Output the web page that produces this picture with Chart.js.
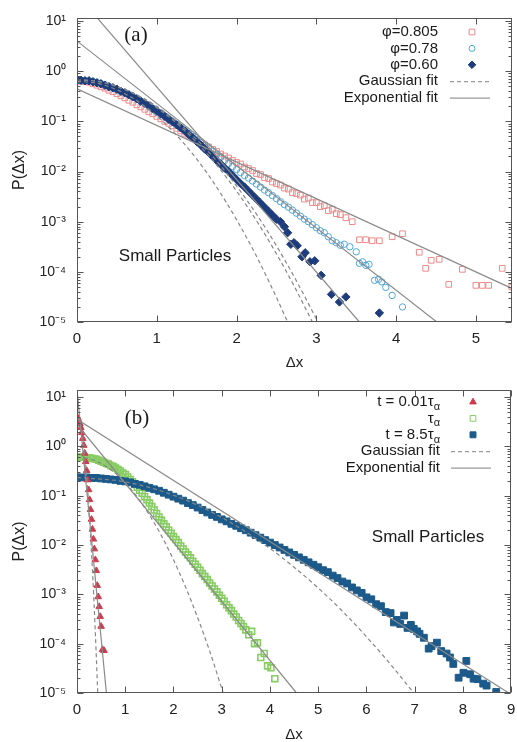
<!DOCTYPE html>
<html lang="en">
<head>
<meta charset="utf-8">
<script src="https://cdn.jsdelivr.net/npm/chart.js@4.4.1/dist/chart.umd.min.js"></script>
<style>
  body { margin: 0; background: #fff; }
  .panel { position: absolute; left: 0; }
</style>
</head>
<body>
<div class="panel" style="top:0"><canvas id="chartA" width="517" height="370"></canvas></div>
<div class="panel" style="top:370px"><canvas id="chartB" width="517" height="372"></canvas></div>
<script>
// values are log10 P(dx); dense parts are histogram bins
const yTickValues = [1e-5, 1e-4, 1e-3, 1e-2, 1e-1, 1, 10];
const yTickLabels = ['10⁻⁵', '10⁻⁴', '10⁻³', '10⁻²', '10⁻¹', '10⁰', '10¹'];
const xTicksA = [0, 1, 2, 3, 4, 5];
const xTicksB = [0, 1, 2, 3, 4, 5, 6, 7, 8, 9];

// ---- panel (a), bin width 0.05
const binA = 0.05;
const logA805 = [-0.20,-0.20,-0.21,-0.22,-0.25,-0.28,-0.31,-0.34,-0.38,-0.41,
  -0.45,-0.49,-0.53,-0.58,-0.62,-0.67,-0.71,-0.76,-0.81,-0.85,
  -0.90,-0.95,-1.00,-1.04,-1.09,-1.14,-1.19,-1.24,-1.28,-1.33,
  -1.38,-1.42,-1.47,-1.51,-1.56,-1.60,-1.65,-1.69,-1.73,-1.78,
  -1.82,-1.85,-1.91,-1.94,-1.98,-2.04,-2.06,-2.12,-2.14,-2.21,
  -2.24,-2.27,-2.33,-2.35,-2.42,-2.44,-2.47,-2.55,-2.53,-2.62,
  -2.62,-2.70,-2.68,-2.78,-2.75,-2.84,-2.86];
const tailXA805 = [3.37,3.45,3.54,3.62,3.70,3.79,3.95,4.08,4.29,4.37,4.44,4.54,4.66,4.83,5.00,5.08,5.16,5.33,5.45];
const tailLogA805 = [-2.92,-3.00,-3.36,-3.36,-3.38,-3.38,-3.30,-3.24,-3.61,-3.93,-3.77,-3.75,-4.25,-3.95,-4.27,-4.27,-4.27,-3.93,-4.30];

const logA078 = [-0.19,-0.19,-0.19,-0.20,-0.21,-0.23,-0.25,-0.27,-0.30,-0.33,
  -0.36,-0.40,-0.43,-0.47,-0.51,-0.55,-0.60,-0.64,-0.69,-0.74,
  -0.79,-0.84,-0.90,-0.95,-1.01,-1.06,-1.12,-1.18,-1.24,-1.30,
  -1.36,-1.42,-1.48,-1.54,-1.60,-1.66,-1.72,-1.78,-1.84,-1.90,
  -1.96,-2.02,-2.08,-2.13,-2.19,-2.25,-2.31,-2.37,-2.42,-2.48,
  -2.54,-2.60,-2.66,-2.71,-2.77,-2.83,-2.89,-2.95,-3.00,-3.06,
  -3.12,-3.18,-3.22,-3.30,-3.38,-3.42,-3.47];
const tailXA078 = [3.35,3.42,3.50,3.54,3.58,3.62,3.66,3.73,3.78,3.82,3.87,3.95,4.08];
const tailLogA078 = [-3.45,-3.50,-3.60,-3.83,-3.80,-3.87,-3.85,-4.17,-4.15,-4.20,-4.31,-4.47,-4.70];

const logA060 = [-0.18,-0.18,-0.19,-0.19,-0.21,-0.23,-0.25,-0.28,-0.31,-0.33,
  -0.36,-0.40,-0.43,-0.47,-0.51,-0.55,-0.60,-0.64,-0.69,-0.75,
  -0.80,-0.85,-0.90,-0.96,-1.01,-1.07,-1.13,-1.19,-1.26,-1.33,
  -1.40,-1.47,-1.55,-1.62,-1.70,-1.78,-1.85,-1.93,-2.00,-2.08,
  -2.16,-2.24,-2.31,-2.39,-2.47,-2.55,-2.63,-2.71,-2.79,-2.87,
  -2.95];
const tailXA060 = [2.55,2.60,2.64,2.68,2.72,2.76,2.82,2.86,2.92,2.98,3.06,3.19,3.29,3.37,3.79];
const tailLogA060 = [-3.00,-3.10,-3.22,-3.45,-3.42,-3.48,-3.70,-3.62,-3.80,-3.78,-4.07,-4.45,-4.60,-4.50,-4.82];

const gaussXA805 = [0,0.25,0.5,0.75,1,1.25,1.5,1.75,2,2.25,2.5,2.64];
const gaussLogA805 = [-0.20,-0.24,-0.37,-0.59,-0.89,-1.28,-1.75,-2.31,-2.96,-3.69,-4.51,-5.0];
const gaussXA078 = [0,0.25,0.5,0.75,1,1.25,1.5,1.75,2,2.25,2.5,2.75,3.02];
const gaussLogA078 = [-0.17,-0.20,-0.30,-0.47,-0.70,-1.00,-1.36,-1.79,-2.29,-2.85,-3.48,-4.18,-5.0];
const gaussXA060 = [0,0.25,0.5,0.75,1,1.25,1.5,1.75,2,2.25,2.5,2.75,2.95];
const gaussLogA060 = [-0.17,-0.20,-0.31,-0.48,-0.73,-1.04,-1.42,-1.87,-2.39,-2.98,-3.64,-4.37,-5.0];
const expXA805 = [0, 5.45], expLogA805 = [-0.35, -4.33];
const expXA078 = [0, 4.51], expLogA078 = [0.60, -5.0];
const expXA060 = [0, 3.54], expLogA060 = [1.53, -5.0];

// ---- panel (b)
const xB001 = [0,0.02,0.04,0.06,0.08,0.10,0.12,0.14,0.16,0.18,0.20,0.22,0.24,0.26,0.28,0.30,0.32,0.34,0.36,0.38,0.40,0.42,0.44,0.46,0.48,0.50,0.53,0.56];
const logB001 = [0.59,0.57,0.52,0.46,0.38,0.28,0.16,0.02,-0.14,-0.31,-0.49,-0.68,-0.88,-1.08,-1.28,-1.48,-1.68,-1.88,-2.08,-2.30,-2.52,-2.82,-3.05,-3.25,-3.45,-3.65,-4.12,-4.14];

const binB1 = 0.05;
const logB1 = [-0.22,-0.22,-0.22,-0.22,-0.23,-0.23,-0.24,-0.25,-0.26,-0.28,
  -0.30,-0.32,-0.34,-0.36,-0.39,-0.41,-0.44,-0.47,-0.50,-0.54,
  -0.57,-0.62,-0.67,-0.72,-0.77,-0.83,-0.89,-0.95,-1.02,-1.08,
  -1.15,-1.22,-1.29,-1.36,-1.43,-1.50,-1.57,-1.63,-1.70,-1.76,
  -1.83,-1.89,-1.95,-2.02,-2.08,-2.14,-2.20,-2.26,-2.33,-2.39,
  -2.45,-2.51,-2.58,-2.64,-2.70,-2.77,-2.83,-2.89,-2.95,-3.02,
  -3.08,-3.14,-3.21,-3.27,-3.33,-3.40,-3.46,-3.53,-3.59,-3.65,
  -3.72];
const tailXB1 = [3.56,3.62,3.68,3.74,3.81,3.88,3.95,4.02,4.10];
const tailLogB1 = [-3.82,-3.75,-4.00,-3.98,-4.28,-4.20,-4.45,-4.49,-4.71];

const binB85 = 0.1;
const logB85 = [-0.63,-0.63,-0.63,-0.64,-0.64,-0.65,-0.66,-0.67,-0.68,-0.70,
  -0.71,-0.73,-0.76,-0.78,-0.81,-0.84,-0.87,-0.90,-0.94,-0.98,
  -1.02,-1.06,-1.10,-1.15,-1.19,-1.24,-1.29,-1.34,-1.39,-1.43,
  -1.48,-1.52,-1.57,-1.61,-1.66,-1.70,-1.75,-1.80,-1.85,-1.90,
  -1.95,-2.00,-2.05,-2.10,-2.15,-2.20,-2.25,-2.30,-2.35,-2.40,
  -2.45,-2.51,-2.55,-2.62,-2.67,-2.74,-2.78,-2.86,-2.92,-2.97,
  -3.06,-3.10,-3.20,-3.24,-3.36];
const tailXB85 = [6.50,6.57,6.63,6.70,6.78,6.85,6.92,6.98,7.05,7.10,7.19,7.29,7.35,7.46,7.55,7.66,7.73,7.80,7.91,8.01,8.07,8.15,8.22,8.30,8.42,8.49,8.69];
const tailLogB85 = [-3.38,-3.57,-3.52,-3.60,-3.43,-3.68,-3.62,-3.70,-3.75,-3.80,-3.88,-4.10,-4.05,-3.98,-4.15,-4.20,-4.28,-4.41,-4.69,-4.59,-4.35,-4.62,-4.71,-4.72,-4.81,-4.85,-4.98];

const gaussXB001 = [0,0.05,0.1,0.15,0.2,0.25,0.3,0.35,0.4,0.43];
const gaussLogB001 = [0.60,0.52,0.30,-0.08,-0.61,-1.29,-2.13,-3.11,-4.25,-5.0];
const gaussXB1 = [0,0.25,0.5,0.75,1,1.25,1.5,1.75,2,2.25,2.5,2.75,3.03];
const gaussLogB1 = [-0.22,-0.25,-0.35,-0.51,-0.74,-1.03,-1.39,-1.81,-2.30,-2.85,-3.47,-4.15,-5.0];
const gaussXB85 = [0,1,2,3,4,4.5,5,5.5,6,6.5,6.98];
const gaussLogB85 = [-0.63,-0.72,-0.99,-1.44,-2.07,-2.45,-2.87,-3.34,-3.86,-4.42,-5.0];
const expXB001 = [0, 0.61], expLogB001 = [1.14, -5.0];
const expXB1 = [0, 4.55], expLogB1 = [0.45, -5.0];
const expXB85 = [0, 8.95], expLogB85 = [0.55, -5.0];

const SANS = "'Liberation Sans', Arial, sans-serif";
Chart.defaults.font.family = SANS;

function pts(xs, logs) {
  return xs.map((x, i) => ({ x: x, y: Math.pow(10, logs[i]) }));
}
function binned(step, logs) {
  return logs.map((v, i) => ({ x: +(i * step).toFixed(3), y: Math.pow(10, v) }));
}

function marks(label, data, style, color, radius, filled, order, bw) {
  return {
    label, data, showLine: false, order,
    pointStyle: style, pointRadius: radius, pointHoverRadius: radius,
    pointBorderColor: color, pointBorderWidth: bw || 1,
    pointBackgroundColor: filled ? color : 'rgba(0,0,0,0)'
  };
}
function fit(label, data, dashed) {
  return {
    label, data, showLine: true, order: 0, pointRadius: 0,
    borderColor: dashed ? '#888' : '#8a8a8a', borderWidth: 1.2,
    borderDash: dashed ? [4, 3] : [],
    cubicInterpolationMode: dashed ? 'monotone' : 'default'
  };
}

function axes(xMax, xTicks, yMax, xAxisH) {
  return {
    x: {
      type: 'linear', min: 0, max: xMax,
      afterBuildTicks: s => { s.ticks = xTicks.map(v => ({ value: v })); },
      afterFit: s => { s.height = xAxisH; s.paddingLeft = 0; s.paddingRight = 0; },
      grid: { display: false, drawTicks: false },
      border: { display: false },
      ticks: { color: '#222', font: { size: 15 }, padding: 8, maxRotation: 0, autoSkip: false },
      title: { display: true, text: 'Δx', color: '#222', font: { size: 15, lineHeight: 1 }, padding: 0 }
    },
    y: {
      type: 'logarithmic', min: 1e-5, max: yMax,
      afterBuildTicks: s => { s.ticks = yTickValues.map(v => ({ value: v })); },
      afterFit: s => { s.width = 77; s.paddingTop = 0; s.paddingBottom = 0; },
      grid: { display: false, drawTicks: false },
      border: { display: false },
      ticks: {
        color: '#222', font: { size: 14 }, padding: 11, autoSkip: false,
        callback: v => yTickLabels[Math.round(Math.log10(v)) + 5]
      },
      title: { display: true, text: 'P(Δx)', color: '#222', font: { size: 16 }, padding: { top: 10, bottom: 0 } }
    }
  };
}

// box round the plot with inward ticks, gnuplot style
const framePlugin = {
  id: 'frame',
  afterDatasetsDraw(chart) {
    const { ctx, chartArea: a, scales: { x, y } } = chart;
    const L = Math.round(a.left) + 0.5, R = Math.round(a.right) - 0.5;
    const T = Math.round(a.top) + 0.5, B = Math.round(a.bottom) - 0.5;
    ctx.save();
    ctx.strokeStyle = '#555';
    ctx.lineWidth = 1;
    ctx.strokeRect(L, T, R - L, B - T);
    ctx.beginPath();
    for (let e = -5; e <= 1; e++) {
      for (let m = 1; m <= 9; m++) {
        const v = m * Math.pow(10, e);
        if (v < y.min || v > y.max) continue;
        const py = Math.round(y.getPixelForValue(v)) + 0.5;
        const len = m === 1 ? 6 : 3;
        ctx.moveTo(L, py); ctx.lineTo(L + len, py);
        ctx.moveTo(R, py); ctx.lineTo(R - len, py);
      }
    }
    x.ticks.forEach(t => {
      const px = Math.round(x.getPixelForValue(t.value)) + 0.5;
      ctx.moveTo(px, B); ctx.lineTo(px, B - 6);
      ctx.moveTo(px, T); ctx.lineTo(px, T + 6);
    });
    ctx.stroke();
    ctx.restore();
  }
};

// panel tag, note text and the right-aligned key
function notesPlugin(cfg) {
  return {
    id: 'notes',
    afterDraw(chart) {
      const ctx = chart.ctx;
      ctx.save();
      ctx.fillStyle = '#1a1a1a';
      ctx.textBaseline = 'middle';
      ctx.textAlign = 'center';
      ctx.font = "21px 'Liberation Serif', serif";
      ctx.fillText(cfg.tag, cfg.tagX, cfg.tagY);
      ctx.font = '17px ' + SANS;
      ctx.fillText('Small Particles', cfg.noteX, cfg.noteY);
      ctx.textAlign = 'left';
      cfg.rows.forEach((r, i) => {
        const yy = cfg.keyY + i * 16.4;
        ctx.font = '11px ' + SANS;
        const wSub = r.sub ? ctx.measureText(r.sub).width : 0;
        ctx.font = '15px ' + SANS;
        const wMain = ctx.measureText(r.text).width;
        ctx.fillStyle = '#1a1a1a';
        ctx.fillText(r.text, cfg.keyX - wMain - wSub, yy);
        if (r.sub) {
          ctx.font = '11px ' + SANS;
          ctx.fillText(r.sub, cfg.keyX - wSub, yy + 5);
        }
        if (r.line) {
          ctx.strokeStyle = '#9a9a9a';
          ctx.lineWidth = 1.2;
          ctx.setLineDash(r.line === 'dash' ? [4, 3] : []);
          ctx.beginPath();
          ctx.moveTo(cfg.markX - 22, yy + 0.5);
          ctx.lineTo(cfg.markX + 18, yy + 0.5);
          ctx.stroke();
          ctx.setLineDash([]);
        } else {
          ctx.strokeStyle = r.color;
          ctx.fillStyle = r.filled ? r.color : 'rgba(0,0,0,0)';
          ctx.lineWidth = 1;
          Chart.helpers.drawPoint(ctx, { pointStyle: r.style, rotation: 0, radius: r.radius, borderWidth: 1 }, cfg.markX, yy);
        }
      });
      ctx.restore();
    }
  };
}

const C805 = '#ee8a8a', C078 = '#4ea6da', C060 = '#1d3c7c';
const CB001 = '#cf3a4c', CB1 = '#86cc62', CB85 = '#1b5a8a';

new Chart(document.getElementById('chartA'), {
  type: 'scatter',
  data: {
    datasets: [
      fit('Exponential fit', pts(expXA805, expLogA805), false),
      fit('Exponential fit', pts(expXA078, expLogA078), false),
      fit('Exponential fit', pts(expXA060, expLogA060), false),
      fit('Gaussian fit', pts(gaussXA805, gaussLogA805), true),
      fit('Gaussian fit', pts(gaussXA078, gaussLogA078), true),
      fit('Gaussian fit', pts(gaussXA060, gaussLogA060), true),
      marks('φ=0.60', binned(binA, logA060).concat(pts(tailXA060, tailLogA060)), 'rectRot', C060, 4.2, true, 1),
      marks('φ=0.78', binned(binA, logA078).concat(pts(tailXA078, tailLogA078)), 'circle', C078, 3.2, false, 2),
      marks('φ=0.805', binned(binA, logA805).concat(pts(tailXA805, tailLogA805)), 'rect', C805, 4, false, 3)
    ]
  },
  options: {
    responsive: false, animation: false,
    layout: { padding: { top: 18, right: 4, bottom: 0, left: 0 } },
    plugins: { legend: { display: false }, tooltip: { enabled: false } },
    scales: axes(5.45, xTicksA, 11.5, 48)
  },
  plugins: [framePlugin, notesPlugin({
    tag: '(a)', tagX: 136, tagY: 35, noteX: 175, noteY: 256,
    keyX: 438, keyY: 32, markX: 472,
    rows: [
      { text: 'φ=0.805', style: 'rect', color: C805, radius: 4, filled: false },
      { text: 'φ=0.78', style: 'circle', color: C078, radius: 3, filled: false },
      { text: 'φ=0.60', style: 'rectRot', color: C060, radius: 3.8, filled: true },
      { text: 'Gaussian fit', line: 'dash' },
      { text: 'Exponential fit', line: 'solid' }
    ]
  })]
});

new Chart(document.getElementById('chartB'), {
  type: 'scatter',
  data: {
    datasets: [
      fit('Exponential fit', pts(expXB001, expLogB001), false),
      fit('Exponential fit', pts(expXB1, expLogB1), false),
      fit('Exponential fit', pts(expXB85, expLogB85), false),
      fit('Gaussian fit', pts(gaussXB001, gaussLogB001), true),
      fit('Gaussian fit', pts(gaussXB1, gaussLogB1), true),
      fit('Gaussian fit', pts(gaussXB85, gaussLogB85), true),
      marks('t = 0.01τα', pts(xB001, logB001), 'triangle', CB001, 3.8, true, 1),
      marks('τα', binned(binB1, logB1).concat(pts(tailXB1, tailLogB1)), 'rect', CB1, 4.2, false, 3, 1.6),
      marks('t = 8.5τα', binned(binB85, logB85).concat(pts(tailXB85, tailLogB85)), 'rect', CB85, 4.8, true, 2)
    ]
  },
  options: {
    responsive: false, animation: false,
    layout: { padding: { top: 20, right: 2, bottom: 0, left: 0 } },
    plugins: { legend: { display: false }, tooltip: { enabled: false } },
    scales: axes(9, xTicksB, 13.9, 49)
  },
  plugins: [framePlugin, notesPlugin({
    tag: '(b)', tagX: 137, tagY: 48, noteX: 428, noteY: 167,
    keyX: 440, keyY: 32, markX: 473,
    rows: [
      { text: 't = 0.01τ', sub: 'α', style: 'triangle', color: CB001, radius: 3.8, filled: true },
      { text: 'τ', sub: 'α', style: 'rect', color: CB1, radius: 4, filled: false },
      { text: 't = 8.5τ', sub: 'α', style: 'rect', color: CB85, radius: 4.2, filled: true },
      { text: 'Gaussian fit', line: 'dash' },
      { text: 'Exponential fit', line: 'solid' }
    ]
  })]
});
</script>
</body>
</html>
